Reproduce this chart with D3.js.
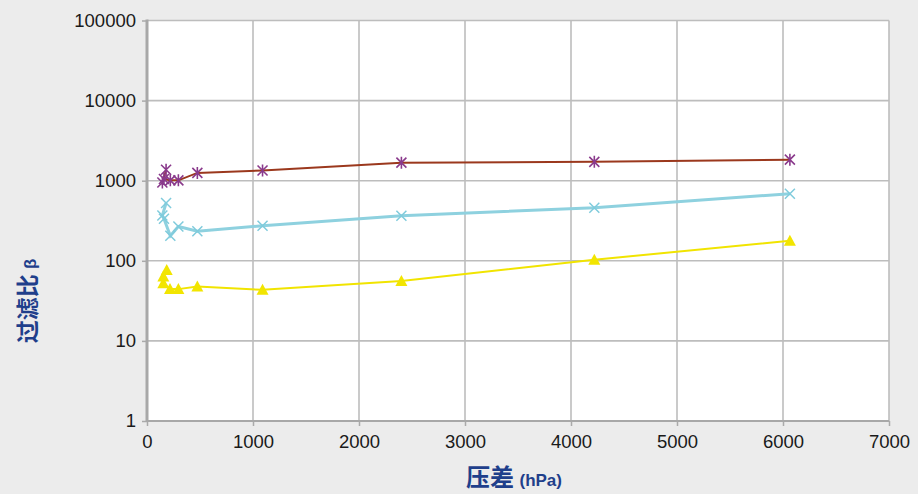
<!DOCTYPE html>
<html>
<head>
<meta charset="utf-8">
<script src="https://cdn.jsdelivr.net/npm/d3@7"></script>
<style>
    body { margin: 0; background: #ececec; }
    svg { display: block; }
    .tick text { font-family: "Liberation Sans", Arial, sans-serif; font-size: 18.5px; fill: #1a1a1a; }
    .axisTitle { font-family: "Noto Sans CJK SC", sans-serif; font-weight: bold; fill: #1f3f8b; }
</style>
</head>
<body>
<script>
(function() {

    // pressure difference (hPa), in the order the points are joined
    var pressure = [180, 145, 160, 220, 296, 475, 1090, 2400, 4220, 6065];
    var pressureC = [186, 154, 154, 217, 296, 475, 1090, 2400, 4220, 6065];
    // filtration ratio beta for each series
    var betaA = [1370, 950, 1050, 1010, 1010, 1250, 1340, 1680, 1720, 1830];
    var betaB = [526, 368, 335, 205, 268, 234, 274, 365, 460, 688];
    var betaC = [77, 63.6, 52.6, 44.3, 44.3, 47.7, 43.4, 56, 103, 178];
    var xTicks = [0, 1000, 2000, 3000, 4000, 5000, 6000, 7000];
    var yTicks = [1, 10, 100, 1000, 10000, 100000];

    var width = 918,
        height = 494,
        left = 147,
        right = 889,
        top = 20.5,
        bottom = 421;

    var svg = d3.select('body')
        .append('svg')
        .attr('width', width)
        .attr('height', height);

    var x = d3.scaleLinear().domain([0, 7000]).range([left, right]);
    var y = d3.scaleLog().domain([1, 100000]).range([bottom, top]);

    // plot background
    svg.append('rect')
        .attr('x', left)
        .attr('y', top)
        .attr('width', right - left)
        .attr('height', bottom - top)
        .style('fill', '#fff');

    // grid
    svg.append('g')
        .selectAll('line')
        .data(xTicks.slice(1))
        .enter()
        .append('line')
        .attr('x1', function(d) { return x(d); })
        .attr('x2', function(d) { return x(d); })
        .attr('y1', top)
        .attr('y2', bottom)
        .style('stroke', '#bdbdbd')
        .style('stroke-width', 1.6);

    svg.append('g')
        .selectAll('line')
        .data(yTicks.slice(1))
        .enter()
        .append('line')
        .attr('x1', left)
        .attr('x2', right)
        .attr('y1', function(d) { return y(d); })
        .attr('y2', function(d) { return y(d); })
        .style('stroke', '#bdbdbd')
        .style('stroke-width', 1.6);

    // axes
    var yAxis = d3.axisLeft(y)
        .tickValues(yTicks)
        .tickFormat(d3.format('d'))
        .tickSize(5)
        .tickPadding(6);

    var gy = svg.append('g')
        .attr('transform', 'translate(' + left + ',0)')
        .call(yAxis);

    var xAxis = d3.axisBottom(x)
        .tickValues(xTicks)
        .tickFormat(d3.format('d'))
        .tickSize(5)
        .tickPadding(9);

    var gx = svg.append('g')
        .attr('transform', 'translate(0,' + bottom + ')')
        .call(xAxis);

    gy.select('.domain').remove();
    gx.select('.domain').remove();
    svg.selectAll('.tick line').style('stroke', '#aaa').style('stroke-width', 1.5);

    svg.append('line')
        .attr('x1', left).attr('x2', left)
        .attr('y1', top - 1).attr('y2', bottom + 1)
        .style('stroke', '#a8a8a8')
        .style('stroke-width', 3);

    svg.append('line')
        .attr('x1', left).attr('x2', right)
        .attr('y1', bottom).attr('y2', bottom)
        .style('stroke', '#a8a8a8')
        .style('stroke-width', 2);

    // series
    function makeData(xs, ys) {
        return xs.map(function(d, i) { return [d, ys[i]]; });
    }

    var line = d3.line()
        .x(function(d) { return x(d[0]); })
        .y(function(d) { return y(d[1]); });

    var dataA = makeData(pressure, betaA),
        dataB = makeData(pressure, betaB),
        dataC = makeData(pressureC, betaC);

    svg.append('path')
        .datum(dataC)
        .attr('d', line)
        .style('fill', 'none')
        .style('stroke', '#f1e400')
        .style('stroke-width', 2);

    svg.append('path')
        .datum(dataB)
        .attr('d', line)
        .style('fill', 'none')
        .style('stroke', '#8ed1df')
        .style('stroke-width', 3);

    svg.append('path')
        .datum(dataA)
        .attr('d', line)
        .style('fill', 'none')
        .style('stroke', '#9b381d')
        .style('stroke-width', 2);

    // triangle markers
    svg.append('g')
        .selectAll('path')
        .data(dataC)
        .enter()
        .append('path')
        .attr('transform', function(d) { return 'translate(' + x(d[0]) + ',' + y(d[1]) + ')'; })
        .attr('d', 'M0,-6L6,5L-6,5Z')
        .style('fill', '#f2e500');

    // cross markers
    svg.append('g')
        .selectAll('path')
        .data(dataB)
        .enter()
        .append('path')
        .attr('transform', function(d) { return 'translate(' + x(d[0]) + ',' + y(d[1]) + ')'; })
        .attr('d', 'M-5,-5L5,5M-5,5L5,-5')
        .style('fill', 'none')
        .style('stroke', '#7fcbdc')
        .style('stroke-width', 1.5);

    // star markers
    svg.append('g')
        .selectAll('path')
        .data(dataA)
        .enter()
        .append('path')
        .attr('transform', function(d) { return 'translate(' + x(d[0]) + ',' + y(d[1]) + ')'; })
        .attr('d', 'M-5,-5L5,5M-5,5L5,-5M0,-6L0,6')
        .style('fill', 'none')
        .style('stroke', '#8a3a8c')
        .style('stroke-width', 1.6);

    // axis titles
    svg.append('text')
        .attr('class', 'axisTitle')
        .attr('transform', 'translate(36,301) rotate(-90)')
        .attr('text-anchor', 'middle')
        .style('font-size', '23px')
        .text('过滤比 ')
        .append('tspan')
        .style('font-family', '"Liberation Sans", Arial, sans-serif')
        .style('font-size', '17px')
        .text('β');

    var xt = svg.append('text')
        .attr('class', 'axisTitle')
        .attr('x', 514)
        .attr('y', 486)
        .attr('text-anchor', 'middle')
        .style('font-size', '24px')
        .text('压差 ');

    xt.append('tspan')
        .style('font-family', '"Liberation Sans", Arial, sans-serif')
        .style('font-size', '17px')
        .text('(hPa)');

})();
</script>
</body>
</html>
